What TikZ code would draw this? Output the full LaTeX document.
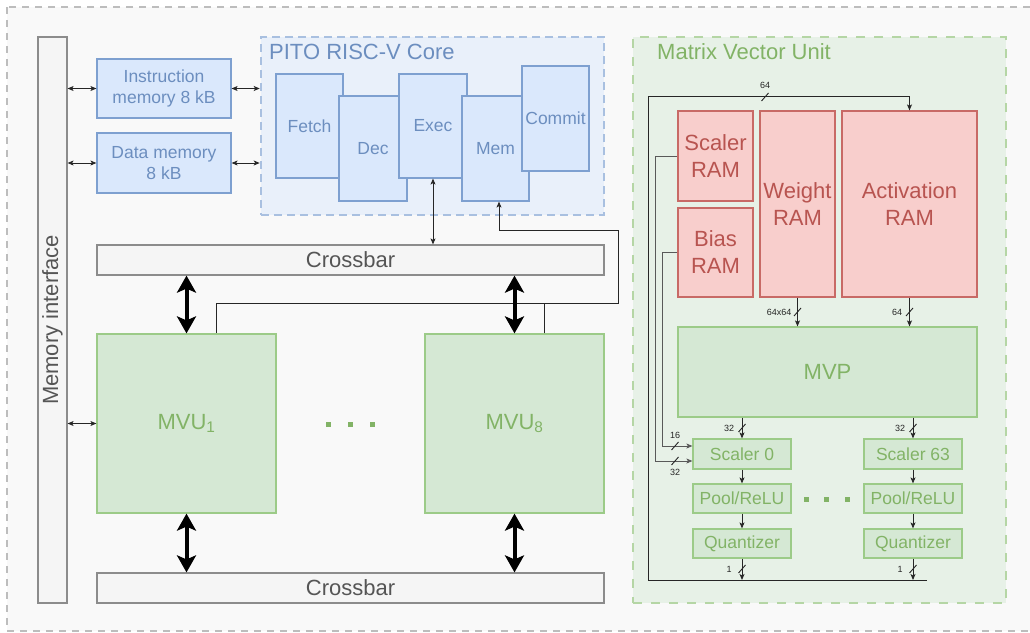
\documentclass[tikz,border=0pt]{standalone}
\usepackage{fontspec}
\setmainfont{Liberation Sans}
\usetikzlibrary{arrows.meta,calc}
\definecolor{bfill}{HTML}{DAE8FC}
\definecolor{bline}{HTML}{7EA0D0}
\definecolor{btext}{HTML}{6C8EBF}
\definecolor{bcont}{HTML}{E9F0FA}
\definecolor{bdash}{HTML}{A9C0E0}
\definecolor{gfill}{HTML}{D5E8D4}
\definecolor{gline}{HTML}{9CCB88}
\definecolor{gtext}{HTML}{82B366}
\definecolor{gcont}{HTML}{E7F1E7}
\definecolor{gdash}{HTML}{B5D6A5}
\definecolor{rfill}{HTML}{F8CECC}
\definecolor{rline}{HTML}{C86A66}
\definecolor{rtext}{HTML}{B85450}
\definecolor{xfill}{HTML}{F5F5F5}
\definecolor{xline}{HTML}{8C8C8C}
\definecolor{xtext}{HTML}{555555}
\definecolor{ofill}{HTML}{F9F9F9}
\definecolor{oline}{HTML}{BDBDBD}
\newcommand\mkslash[1]{\draw[wire] ($(#1)+(-3.5,4)$) -- ($(#1)+(3.5,-4)$);}
\begin{document}
\begin{tikzpicture}[x=1pt,y=-1pt,
  big/.style={font=\fontsize{22}{27}\selectfont},
  mid/.style={font=\fontsize{17.5}{21}\selectfont},
  tiny/.style={font=\fontsize{9}{10}\selectfont, text=black!85},
  bbox/.style={draw=bline, fill=bfill, line width=1.2pt, text=btext, mid, inner sep=0pt, align=center},
  gbox/.style={draw=gline, fill=gfill, line width=1.2pt, text=gtext, inner sep=0pt, align=center},
  rbox/.style={draw=rline, fill=rfill, line width=1.2pt, text=rtext, big, inner sep=0pt, align=center},
  xbox/.style={draw=xline, fill=xfill, line width=1.2pt, text=xtext, big, inner sep=0pt, align=center},
  wire/.style={draw=black!85, line width=0.9pt},
  gwire/.style={draw=black!65, line width=0.9pt},
  tip/.style={-{Stealth[length=6pt,width=5pt,inset=1.5pt]}},
  dtip/.style={{Stealth[length=6pt,width=5pt,inset=1.5pt]}-{Stealth[length=6pt,width=5pt,inset=1.5pt]}},
  fat/.style={line width=4pt, {Stealth[length=17pt,width=19pt,inset=4pt]}-{Stealth[length=17pt,width=19pt,inset=4pt]}},
  gdot/.style={fill=gtext, draw=none, minimum size=5pt, inner sep=0pt}
]
\useasboundingbox (0,0) rectangle (1030,632);
\clip (0,0) rectangle (1030,632);
\fill[white] (0,0) rectangle (1030,632);
% outer container
\draw[draw=oline, fill=ofill, line width=1.8pt, dash pattern=on 7pt off 6pt] (7,7) rectangle (1045,631);

% memory interface
\node[xbox, minimum width=29pt, minimum height=566pt] (memif) at (52.5,320) {};
\node[text=xtext, big, rotate=90] (memiftext) at (memif.center) {Memory interface};

% memories
\node[bbox, minimum width=134pt, minimum height=59pt] (imem) at (164,88.5) {Instruction\\memory 8 kB};
\node[bbox, minimum width=134pt, minimum height=60pt] (dmem) at (164,163) {Data memory\\8 kB};

% core container
\node[draw=bdash, fill=bcont, line width=2.6pt, dash pattern=on 8pt off 5pt, minimum width=343pt, minimum height=178pt, inner sep=0pt] (core) at (432.5,126) {};
\node[anchor=west, big, text=btext, inner sep=0pt] (coretitle) at (269,52) {PITO RISC-V Core};
\node[bbox, minimum width=67pt, minimum height=104pt] (fetch) at (309.5,126) {Fetch};
\node[bbox, minimum width=68pt, minimum height=105pt] (dec) at (373,148.5) {Dec};
\node[bbox, minimum width=68pt, minimum height=104pt] (exec) at (433,126) {Exec};
\node[bbox, minimum width=67pt, minimum height=105pt] (mem) at (495.5,148.5) {Mem};
\node[bbox, minimum width=67pt, minimum height=105pt] (commit) at (555.5,118.5) {Commit};

% crossbars and MVUs
\node[xbox, minimum width=507pt, minimum height=30pt] (xbar1) at (350.5,260) {Crossbar};
\node[xbox, minimum width=507pt, minimum height=30pt] (xbar2) at (350.5,588) {Crossbar};
\node[gbox, big, minimum width=179pt, minimum height=179pt] (mvu1) at (186.5,423.5) {MVU\textsubscript{1}};
\node[gbox, big, minimum width=179pt, minimum height=179pt] (mvu8) at (514.5,423.5) {MVU\textsubscript{8}};
\node[gdot] (d1) at (328,424) {};
\node[gdot] (d2) at (350,424) {};
\node[gdot] (d3) at (372,424) {};

% left connectors
\draw[wire, dtip] (imem.west -| memif.east) -- (imem.west);
\draw[wire, dtip] (dmem.west -| memif.east) -- (dmem.west);
\draw[wire, dtip] (mvu1.west -| memif.east) -- (mvu1.west);
\draw[wire, dtip] (imem.east) -- (imem.east -| core.west);
\draw[wire, dtip] (dmem.east) -- (dmem.east -| core.west);
\draw[wire, dtip] (exec.south) -- (exec.south |- xbar1.north);
\coordinate (memb) at ($(mem.south)+(3.5,0)$);
\coordinate (corner) at (618,230);
\draw[wire, {Stealth[length=6pt,width=5pt,inset=1.5pt]}-] (memb) |- (corner) |- ($(mvu1.north)+(29.5,-30)$) -- ($(mvu1.north)+(29.5,0)$);
\draw[wire] ($(mvu8.north)+(29.5,0)$) -- ++(0,-30);
\draw[fat] (mvu1.north |- xbar1.south) -- (mvu1.north);
\draw[fat] (mvu8.north |- xbar1.south) -- (mvu8.north);
\draw[fat] (mvu1.south) -- (mvu1.south |- xbar2.north);
\draw[fat] (mvu8.south) -- (mvu8.south |- xbar2.north);

% MVU container
\node[draw=gdash, fill=gcont, line width=2.6pt, dash pattern=on 9pt off 9pt, minimum width=373pt, minimum height=566pt, inner sep=0pt] (mvucont) at (819.5,320) {};
\node[anchor=west, big, text=gtext, inner sep=0pt] (mvutitle) at (657,52) {Matrix Vector Unit};

\node[rbox, minimum width=75pt, minimum height=90pt] (sram) at (715.5,156) {Scaler\\RAM};
\node[rbox, minimum width=75pt, minimum height=89pt] (bram) at (715.5,252.5) {Bias\\RAM};
\node[rbox, minimum width=75pt, minimum height=186pt] (wram) at (797.5,204) {Weight\\RAM};
\node[rbox, minimum width=135pt, minimum height=186pt] (aram) at (909.5,204) {Activation\\RAM};
\node[gbox, big, minimum width=299pt, minimum height=90pt] (mvp) at (827.5,372) {MVP};
\node[gbox, mid, minimum width=98pt, minimum height=30pt] (sc0) at (742,454) {Scaler 0};
\node[gbox, mid, minimum width=98pt, minimum height=29pt] (pr0) at (742,498.5) {Pool/ReLU};
\node[gbox, mid, minimum width=98pt, minimum height=29pt] (q0) at (742,543.5) {Quantizer};
\node[gbox, mid, minimum width=98pt, minimum height=30pt] (sc63) at (913,454) {Scaler 63};
\node[gbox, mid, minimum width=98pt, minimum height=29pt] (pr63) at (913,498.5) {Pool/ReLU};
\node[gbox, mid, minimum width=98pt, minimum height=29pt] (q63) at (913,543.5) {Quantizer};
\node[gdot] (e1) at (806,499) {};
\node[gdot] (e2) at (826,499) {};
\node[gdot] (e3) at (847,499) {};

% MVU wires
\coordinate (busL) at (648,580);
\coordinate (busR) at (927,580);
\draw[wire] (busL) -- (busR);
\draw[wire, tip] (busL) |- ($(aram.north)+(0,-14)$) -- (aram.north);
\draw[wire, tip] (wram.south) -- (wram.south |- mvp.north);
\draw[wire, tip] (aram.south) -- (aram.south |- mvp.north);
\draw[wire, tip] (sc0.north |- mvp.south) -- (sc0.north);
\draw[wire, tip] (sc63.north |- mvp.south) -- (sc63.north);
\draw[wire, tip] (sc0.south) -- (pr0.north);
\draw[wire, tip] (pr0.south) -- (q0.north);
\draw[wire, tip] (sc63.south) -- (pr63.north);
\draw[wire, tip] (pr63.south) -- (q63.north);
\draw[wire, tip] (q0.south) -- (q0.south |- busL);
\draw[wire, tip] (q63.south) -- (q63.south |- busL);
\draw[gwire, tip] (sram.west) -- ++(-22,0) |- ($(sc0.west)+(0,7)$);
\draw[gwire, tip] (bram.west) -- ++(-15,0) |- ($(sc0.west)+(0,-8)$);

% bus width marks
\mkslash{765,97}
\mkslash{797.5,312}
\mkslash{909.5,312}
\mkslash{742,428}
\mkslash{913,428}
\mkslash{742,569}
\mkslash{913,569}
\mkslash{675,446}
\mkslash{675,461}
\node[tiny] (l1) at (765,85) {64};
\node[tiny] (l2) at (779,312) {64x64};
\node[tiny] (l3) at (897,312) {64};
\node[tiny] (l4) at (729,428) {32};
\node[tiny] (l5) at (900,428) {32};
\node[tiny] (l6) at (675,435) {16};
\node[tiny] (l7) at (675,472) {32};
\node[tiny] (l8) at (729,569) {1};
\node[tiny] (l9) at (900,569) {1};
\end{tikzpicture}
\end{document}
